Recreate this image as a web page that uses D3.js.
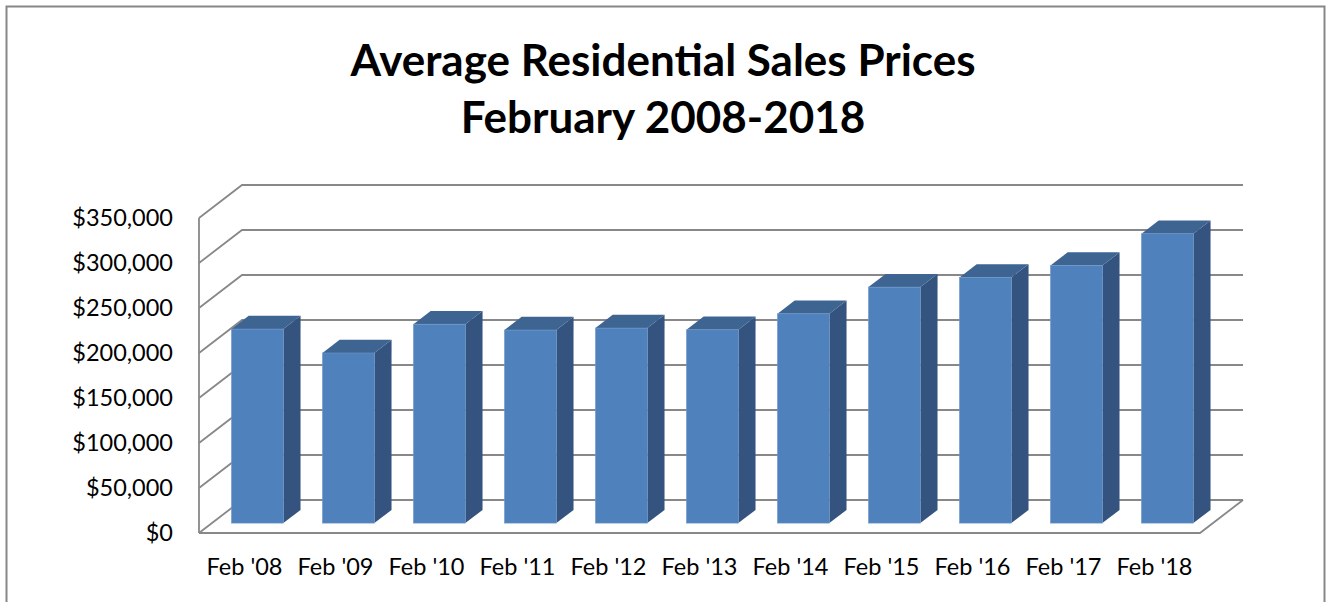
<!DOCTYPE html>
<html>
<head>
<meta charset="utf-8">
<script src="https://cdn.jsdelivr.net/npm/d3@7"></script>
<style>
  html, body { margin: 0; padding: 0; background: #fff; }
  svg { display: block; }
  text { font-family: Lato, "Open Sans", sans-serif; fill: #000; }
</style>
</head>
<body>
<svg id="chart" width="1329" height="602"></svg>
<script>
const titleLines = ['Average Residential Sales Prices', 'February 2008-2018'];
const categories = ["Feb '08", "Feb '09", "Feb '10", "Feb '11", "Feb '12", "Feb '13", "Feb '14", "Feb '15", "Feb '16", "Feb '17", "Feb '18"];
const prices = [215600, 189000, 221000, 214500, 216700, 214800, 232600, 262200, 273000, 286200, 321500];
const yTicks = [0, 50000, 100000, 150000, 200000, 250000, 300000, 350000];

const svg = d3.select('#chart');

// plot box (front plane) and 3d depth offset
const plot = { left: 199, right: 1200, top: 218, bottom: 533 };
const depth = { dx: 43, dy: -33 };
const barDepth = [0.3, 0.7];

const x = d3.scaleBand()
  .domain(categories)
  .range([plot.left, plot.right])
  .paddingInner(0.43)
  .paddingOuter(0.215);

const y = d3.scaleLinear()
  .domain([0, 350000])
  .range([plot.bottom, plot.top]);

const fmt = d3.format('$,');

// outer border
svg.append('rect')
  .attr('x', 6.5).attr('y', 6.5)
  .attr('width', 1318).attr('height', 620)
  .attr('fill', 'none')
  .attr('stroke', '#878787')
  .attr('stroke-width', 2);

// title
svg.append('text')
  .attr('text-anchor', 'middle')
  .attr('font-weight', 'bold')
  .attr('font-size', 44)
  .selectAll('tspan')
  .data(titleLines)
  .enter()
  .append('tspan')
  .attr('x', 663)
  .attr('y', (d, i) => 76 + i * 57)
  .text(d => d);

// walls / gridlines
const grid = svg.append('g')
  .attr('fill', 'none')
  .attr('stroke', '#888')
  .attr('stroke-width', 1.8);

grid.selectAll('path.grid')
  .data(yTicks)
  .enter()
  .append('path')
  .classed('grid', true)
  .attr('d', d => {
    const yy = y(d);
    return `M${plot.left},${yy}L${plot.left + depth.dx},${yy + depth.dy}L${plot.right + depth.dx},${yy + depth.dy}`;
  });

// side wall front edge
grid.append('path')
  .attr('d', `M${plot.left},${y(350000)}L${plot.left},${y(0)}`);

// floor front edge and right edge
grid.append('path')
  .attr('d', `M${plot.left},${y(0)}L${plot.right},${y(0)}L${plot.right + depth.dx},${y(0) + depth.dy}`);

// y labels
svg.append('g')
  .selectAll('text')
  .data(yTicks)
  .enter()
  .append('text')
  .attr('x', 173)
  .attr('y', d => y(d))
  .attr('dy', '0.36em')
  .attr('text-anchor', 'end')
  .attr('font-size', 23.5)
  .text(d => fmt(d));

// x labels
svg.append('g')
  .selectAll('text')
  .data(categories)
  .enter()
  .append('text')
  .attr('x', d => x(d) + x.bandwidth() / 2)
  .attr('y', 575)
  .attr('text-anchor', 'middle')
  .attr('font-size', 23.5)
  .text(d => d);

// bars
const bars = svg.append('g')
  .selectAll('g')
  .data(categories.map((c, i) => ({ cat: c, value: prices[i] })))
  .enter()
  .append('g');

const fx = depth.dx * barDepth[0], fy = depth.dy * barDepth[0];
const bx = depth.dx * barDepth[1], by = depth.dy * barDepth[1];

// right side
bars.append('path')
  .attr('fill', '#34547f')
  .attr('d', d => {
    const x1 = x(d.cat) + x.bandwidth();
    const yt = y(d.value), yb = y(0);
    return `M${x1 + fx},${yt + fy}L${x1 + bx},${yt + by}L${x1 + bx},${yb + by}L${x1 + fx},${yb + fy}Z`;
  });

// top
bars.append('path')
  .attr('fill', '#3e6492')
  .attr('d', d => {
    const x0 = x(d.cat), x1 = x0 + x.bandwidth();
    const yt = y(d.value);
    return `M${x0 + fx},${yt + fy}L${x0 + bx},${yt + by}L${x1 + bx},${yt + by}L${x1 + fx},${yt + fy}Z`;
  });

// front
bars.append('rect')
  .attr('fill', '#4f81bd')
  .attr('stroke', '#6f98c9')
  .attr('stroke-width', 0.6)
  .attr('x', d => x(d.cat) + fx)
  .attr('y', d => y(d.value) + fy)
  .attr('width', x.bandwidth())
  .attr('height', d => y(0) - y(d.value));
</script>
</body>
</html>
